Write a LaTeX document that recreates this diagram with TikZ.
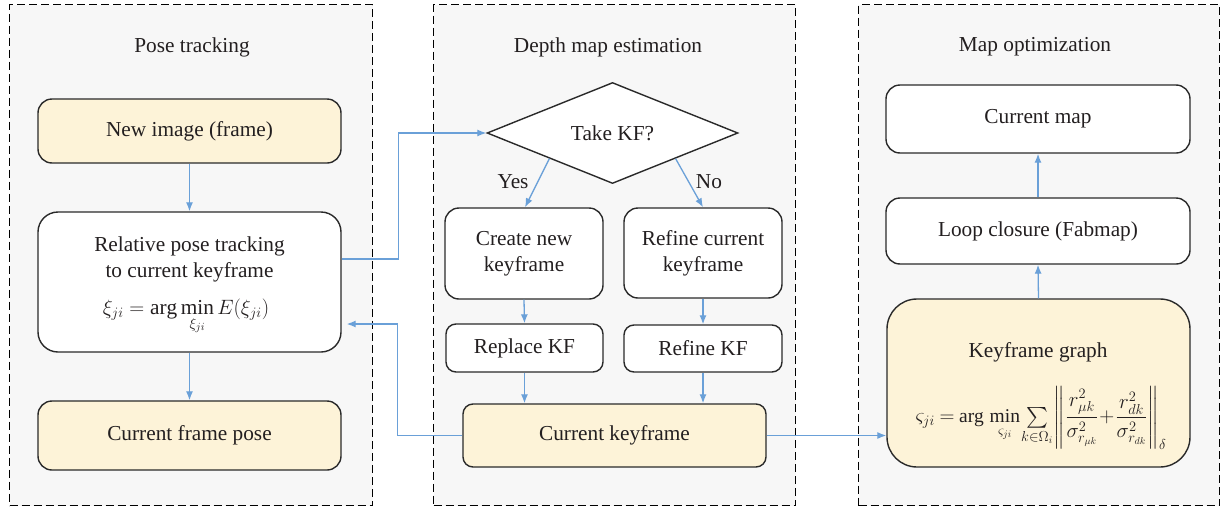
\documentclass[tikz,border=0pt]{standalone}
\usepackage{fontspec}
\setmainfont{Liberation Serif}
\usepackage{amsmath}
\usetikzlibrary{shapes.geometric,arrows.meta}
\definecolor{panelfill}{HTML}{F7F7F7}
\definecolor{ylw}{HTML}{FDF3D8}
\definecolor{arrblue}{HTML}{6AA0D8}
\definecolor{boxline}{HTML}{2A2A2A}
\definecolor{txt}{HTML}{231F20}
\begin{document}
\begin{tikzpicture}[x=1pt,y=-1pt,
  font=\fontsize{21.3}{26}\selectfont, text=txt,
  panel/.style={draw=black, dashed, dash pattern=on 8pt off 4pt, line width=1.2pt, fill=panelfill, rectangle, inner sep=0pt, anchor=north west},
  box/.style={draw=boxline, line width=1.4pt, rounded corners=14pt, fill=white, align=center, inner sep=0pt},
  ybox/.style={box, fill=ylw},
  arr/.style={draw=arrblue, line width=1.3pt, -{Latex[length=9pt,width=7pt]}},
  ttl/.style={inner sep=0pt}]
\useasboundingbox (0,0) rectangle (1224,509);
% panels
\node[panel, minimum width=363pt, minimum height=501pt] (p1) at (9,4) {};
\node[panel, minimum width=362pt, minimum height=501pt] (p2) at (433,4) {};
\node[panel, minimum width=361pt, minimum height=501pt] (p3) at (858,4) {};
\node[ttl] (t1) at (192,47) {Pose tracking};
\node[ttl] (t2) at (608,47) {Depth map estimation};
\node[ttl] (t3) at (1035,47) {Map optimization};
% pose tracking
\node[ybox, minimum width=303pt, minimum height=64pt] (newimg) at (189.5,131) {New image (frame)};
\node[box, rounded corners=20pt, minimum width=303pt, minimum height=140pt] (rel) at (189.5,282) {};
\node[ttl, align=center] (relt) at (189.5,259) {Relative pose tracking\\to current keyframe};
\node[ttl] (relf) at (186,317) {$\displaystyle \xi_{ji} = \arg\min\limits_{\xi_{ji}} E(\xi_{ji})$};
\node[ybox, minimum width=303pt, minimum height=69pt] (cfp) at (189.5,435.5) {Current frame pose};
% depth map
\node[draw=boxline, line width=1.4pt, fill=white, diamond, inner sep=0pt, minimum width=251pt, minimum height=101pt] (kf) at (612.5,133) {Take KF?};
\node[box, minimum width=158pt, minimum height=91pt] (create) at (524,253.5) {Create new\\keyframe};
\node[box, minimum width=158pt, minimum height=90pt] (refine) at (703,253) {Refine current\\keyframe};
\node[box, rounded corners=10pt, minimum width=157pt, minimum height=48pt] (replace) at (524.5,348) {Replace KF};
\node[box, rounded corners=10pt, minimum width=158pt, minimum height=47pt] (refkf) at (703,348.5) {Refine KF};
\node[ybox, rounded corners=10pt, minimum width=303pt, minimum height=63pt] (ckf) at (614.5,435.5) {Current keyframe};
\node[ttl] (yes) at (513,182) {Yes};
\node[ttl] (no) at (709,182) {No};
% map optimization
\node[box, minimum width=304pt, minimum height=68pt] (cmap) at (1038,119) {Current map};
\node[box, minimum width=304pt, minimum height=66pt] (loop) at (1038,231) {Loop closure (Fabmap)};
\node[ybox, rounded corners=30pt, minimum width=303pt, minimum height=168pt] (kg) at (1038.5,383) {};
\node[ttl] (kgt) at (1038,352) {Keyframe graph};
\node[ttl] (kgf) at (1041,418) {\fontsize{19.5}{23}\selectfont\thinmuskip=1mu\medmuskip=2mu\thickmuskip=4mu
  $\displaystyle \varsigma_{ji} = \arg\;\min\limits_{\varsigma_{ji}} \textstyle\sum\limits_{k\in\Omega_i}\displaystyle
  \left\| \frac{r_{\mu k}^2}{\sigma^2_{r_{\mu k}}} \!+\! \frac{r_{dk}^2}{\sigma^2_{r_{dk}}} \right\|_{\delta}$};
% arrows
\draw[arr] (newimg.south) -- (rel.north);
\draw[arr] (rel.south) -- (cfp.north);
\draw[arr] ([yshift=23pt]rel.east) -- ++(57,0) |- (kf.west);
\draw[arr] (ckf.west) -- ++(-65,0) |- ([yshift=-42pt,xshift=5pt]rel.east);
\draw[arr] (kf.south west) -- ([xshift=1pt]create.north);
\draw[arr] (kf.south east) -- (refine.north);
\draw[arr] (create.south) -- (replace.north);
\draw[arr] (refine.south) -- (refkf.north);
\draw[arr] (replace.south) -- (replace.south |- ckf.north);
\draw[arr] (refkf.south) -- (refkf.south |- ckf.north);
\draw[arr] (ckf.east) -- (ckf.east -| kg.west);
\draw[arr] (kg.north) -- (loop.south);
\draw[arr] (loop.north) -- (cmap.south);
\end{tikzpicture}
\end{document}
